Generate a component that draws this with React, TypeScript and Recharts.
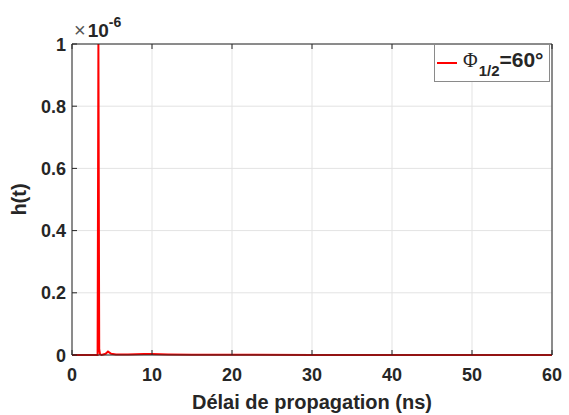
import { CartesianGrid, Legend, Line, LineChart, XAxis, YAxis } from "recharts";

// delay in ns, impulse response in units of 1e-6
const delays = [0, 3.2, 3.3, 3.4, 3.5, 3.7, 4.2, 4.5, 4.9, 5.5, 7, 9, 10, 12, 15, 20, 30, 40, 50, 60];
const hValues = [0, 0, 1.0, 0.02, 0.003, 0, 0.004, 0.011, 0.004, 0.002, 0.002, 0.003, 0.003, 0.002, 0.001, 0.0005, 0.0002, 0.0001, 0, 0];
const xTicks = [0, 10, 20, 30, 40, 50, 60];
const yTicks = [0, 0.2, 0.4, 0.6, 0.8, 1];

const data = delays.map((t, i) => ({ t, h: hValues[i] }));

const ink = "#262626";
const font = "'Liberation Sans', Arial, sans-serif";
const tickStyle = { fontFamily: font, fontWeight: 700, fontSize: 18, fill: ink };
const labelStyle = { ...tickStyle, fontSize: 20 };

const BottomTick = ({ x, y, payload }: any) => (
  <g>
    <line x1={x} x2={x} y1={y} y2={y - 5} stroke={ink} />
    <text x={x} y={y + 26} textAnchor="middle" {...tickStyle}>
      {payload.value}
    </text>
  </g>
);

const LeftTick = ({ x, y, payload }: any) => (
  <g>
    <line x1={x} x2={x + 5} y1={y} y2={y} stroke={ink} />
    <text x={x - 6} y={y + 6.5} textAnchor="end" {...tickStyle}>
      {String(payload.value)}
    </text>
  </g>
);

const TopTick = ({ x, y }: any) => <line x1={x} x2={x} y1={y} y2={y + 5} stroke={ink} />;
const RightTick = ({ x, y }: any) => <line x1={x} x2={x - 5} y1={y} y2={y} stroke={ink} />;

const LegendBox = () => (
  <div
    style={{
      border: "1px solid #8a8a8a",
      background: "#fff",
      height: 38,
      display: "flex",
      alignItems: "center",
      fontFamily: font,
      color: ink,
      boxSizing: "border-box",
      whiteSpace: "nowrap",
    }}
  >
    <span style={{ display: "inline-block", width: 20, height: 2, background: "#ff0000", marginLeft: 2, marginRight: 6 }} />
    <span style={{ fontFamily: "'Liberation Serif', serif", fontSize: 20, position: "relative", top: -3 }}>Φ</span>
    <span style={{ fontWeight: 700, fontSize: 15, position: "relative", top: 7, marginLeft: 1 }}>1/2</span>
    <span style={{ fontWeight: 700, fontSize: 21, position: "relative", top: -3 }}>=60°</span>
  </div>
);

export default function App() {
  return (
    <div style={{ position: "absolute", left: 0, top: 0, width: 569, height: 415, background: "#fff" }}>
      <LineChart width={569} height={415} data={data} margin={{ top: 0, right: 0, left: 0, bottom: 0 }}>
        <CartesianGrid stroke="#e3e3e3" />
        <XAxis
          dataKey="t"
          type="number"
          domain={[0, 60]}
          ticks={xTicks}
          interval={0}
          height={60}
          tickSize={0}
          tickMargin={0}
          tickLine={false}
          axisLine={{ stroke: ink }}
          tick={<BottomTick />}
          label={({ viewBox }: any) => (
            <text x={viewBox.x + viewBox.width / 2} y={viewBox.y + 54} textAnchor="middle" {...labelStyle}>
              Délai de propagation (ns)
            </text>
          )}
        />
        <XAxis
          xAxisId="top"
          orientation="top"
          dataKey="t"
          type="number"
          domain={[0, 60]}
          ticks={xTicks}
          interval={0}
          height={44}
          tickSize={0}
          tickMargin={0}
          tickLine={false}
          axisLine={{ stroke: ink }}
          tick={<TopTick />}
          label={({ viewBox }: any) => (
            <text x={viewBox.x + 2} y={viewBox.y + viewBox.height - 7} fill={ink} fontFamily={font}>
              <tspan fontSize={20} fill="#555">×</tspan>
              <tspan fontSize={19} fontWeight={700} dx={2}>10</tspan>
              <tspan fontSize={14} fontWeight={700} dy={-10}>-6</tspan>
            </text>
          )}
        />
        <YAxis
          type="number"
          domain={[0, 1]}
          ticks={yTicks}
          interval={0}
          width={72}
          tickSize={0}
          tickMargin={0}
          tickLine={false}
          axisLine={{ stroke: ink }}
          tick={<LeftTick />}
          label={({ viewBox }: any) => {
            const cx = viewBox.x + viewBox.width - 46;
            const cy = viewBox.y + viewBox.height / 2;
            return (
              <text x={cx} y={cy} transform={`rotate(-90 ${cx} ${cy})`} textAnchor="middle" {...labelStyle}>
                h(t)
              </text>
            );
          }}
        />
        <YAxis
          yAxisId="right"
          orientation="right"
          type="number"
          domain={[0, 1]}
          ticks={yTicks}
          interval={0}
          width={17}
          tickSize={0}
          tickMargin={0}
          tickLine={false}
          axisLine={{ stroke: ink }}
          tick={<RightTick />}
        />
        <Legend
          layout="vertical"
          align="center"
          verticalAlign="middle"
          wrapperStyle={{ left: 434, top: 44, width: 116 }}
          content={<LegendBox />}
        />
        <Line
          dataKey="h"
          type="linear"
          stroke="#ff0000"
          strokeWidth={2}
          dot={false}
          isAnimationActive={false}
        />
      </LineChart>
    </div>
  );
}
